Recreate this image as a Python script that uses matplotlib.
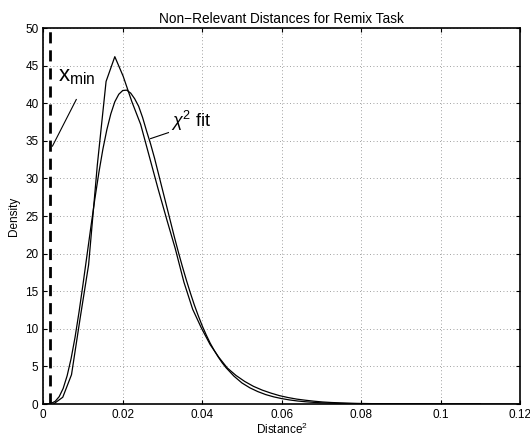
import matplotlib
matplotlib.use('Agg')
import matplotlib.pyplot as plt

plt.rcParams['font.family'] = ['Liberation Sans', 'DejaVu Sans']
plt.rcParams['mathtext.fontset'] = 'custom'
plt.rcParams['mathtext.rm'] = 'Liberation Sans'
plt.rcParams['mathtext.it'] = 'Liberation Sans:italic'

# histogram of non-relevant distances (bin centres and densities)
hist_x = [0.0027, 0.0049, 0.0071, 0.0093, 0.0114, 0.0136, 0.0158, 0.0180,
          0.0201, 0.0223, 0.0245, 0.0267, 0.0289, 0.0311, 0.0332, 0.0354,
          0.0376, 0.0398, 0.0420, 0.0442, 0.0463, 0.0485, 0.0507, 0.0529,
          0.0551, 0.0573, 0.0594, 0.0616, 0.0638, 0.0660, 0.0682, 0.0703,
          0.0725, 0.0747, 0.0769, 0.0791, 0.0812, 0.0834, 0.0856, 0.0878,
          0.0900, 0.0921, 0.0943, 0.0965, 0.0987, 0.1009, 0.1100]
hist_y = [0.05, 0.9, 3.9, 11.5, 18.5, 31.8, 42.9, 46.2,
          43.6, 40.2, 37.2, 32.9, 28.6, 24.5, 20.7, 16.2,
          12.6, 10.1, 7.9, 6.2, 4.8, 3.8, 3.0, 2.35,
          1.85, 1.45, 1.12, 0.86, 0.65, 0.5, 0.37, 0.27,
          0.2, 0.15, 0.11, 0.08, 0.06, 0.045, 0.035, 0.025,
          0.018, 0.012, 0.008, 0.005, 0.003, 0.002, 0.0]

# chi-square fit evaluated on a grid
fit_x = [0.000, 0.001, 0.002, 0.003, 0.004, 0.005, 0.006, 0.007, 0.008, 0.009,
         0.010, 0.011, 0.012, 0.013, 0.014, 0.015, 0.016, 0.017, 0.018, 0.019,
         0.020, 0.021, 0.022, 0.023, 0.024, 0.025, 0.026, 0.027, 0.028, 0.029,
         0.030, 0.031, 0.032, 0.033, 0.034, 0.035, 0.036, 0.037, 0.038, 0.039,
         0.040, 0.041, 0.042, 0.043, 0.044, 0.045, 0.046, 0.048, 0.050, 0.052,
         0.054, 0.056, 0.058, 0.060, 0.062, 0.064, 0.066, 0.068, 0.070, 0.075,
         0.080, 0.090, 0.100, 0.120]
fit_y = [0.0, 0.01, 0.09, 0.36, 0.98, 2.07, 3.76, 6.05, 8.9, 12.26,
         15.95, 19.8, 23.64, 27.37, 30.82, 33.9, 36.5, 38.6, 40.2, 41.2,
         41.7, 41.75, 41.35, 40.6, 39.6, 38.1, 36.3, 34.6, 32.7, 30.6,
         28.5, 26.4, 24.3, 22.2, 20.2, 18.3, 16.5, 14.8, 13.2, 11.75,
         10.4, 9.2, 8.1, 7.15, 6.28, 5.5, 4.83, 3.7, 2.8, 2.15,
         1.65, 1.25, 0.95, 0.72, 0.54, 0.40, 0.30, 0.22, 0.16, 0.075,
         0.035, 0.008, 0.002, 0.0]

x_min = 0.0017

fig = plt.figure(figsize=(5.3, 4.37), dpi=100)
ax = fig.add_axes([0.0817, 0.0755, 0.8995, 0.8602])

ax.plot(hist_x, hist_y, color='black', lw=0.9)
ax.plot(fit_x, fit_y, color='black', lw=0.9)
ax.plot([x_min, x_min], [0, 50], color='black', lw=2, ls=(0, (4, 2.5)))

ax.set_xlim(0, 0.12)
ax.set_ylim(0, 50)
ax.set_xticks([0, 0.02, 0.04, 0.06, 0.08, 0.1, 0.12])
ax.set_xticklabels(['0', '0.02', '0.04', '0.06', '0.08', '0.1', '0.12'])
ax.set_yticks(range(0, 51, 5))
ax.grid(True, color='#808080', ls=(0, (1, 3)), lw=0.6)
ax.tick_params(direction='in', top=True, right=True, labelsize=8.5, length=3, width=0.8)
for s in ax.spines.values():
    s.set_linewidth(1.2)

ax.set_title('Non\u2212Relevant Distances for Remix Task', fontsize=9.8, pad=4)
ax.set_xlabel('Distance$^2$', fontsize=8.5, labelpad=1)
ax.set_ylabel('Density', fontsize=8.5, labelpad=4)

# labels with leader lines
ax.plot([0.0023, 0.0083], [34.3, 40.5], color='black', lw=0.8)
ax.text(0.0038, 43.6, r'$\mathrm{x}_{\mathrm{min}}$', fontsize=16, va='center', ha='left')
ax.plot([0.0270, 0.0315], [35.3, 36.1], color='black', lw=0.8)
ax.text(0.0322, 37.6, r'$\chi^2$ fit', fontsize=13, va='center', ha='left')

fig.savefig('out.png', dpi=100)
